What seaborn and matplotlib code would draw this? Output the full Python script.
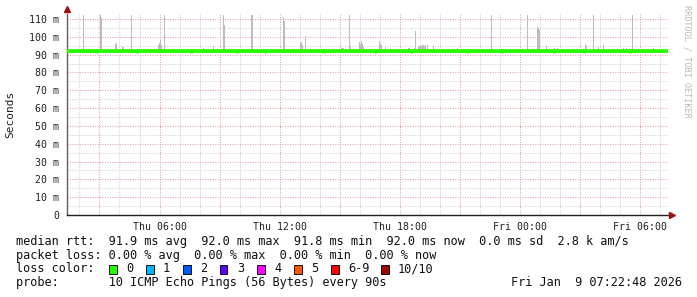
import numpy as np
import pandas as pd
import matplotlib
matplotlib.use("Agg")
import matplotlib.pyplot as plt
import seaborn as sns
from matplotlib.patches import Rectangle

# ---------------- data ----------------
# time axis in hours since Thu 00:00 (graph spans 30 h ending Fri 07:22:48)
t_start, t_end = 1.38, 31.38
step_h = 0.05  # one pixel column = 3 minutes

median_base = 92.0
median_dip_hours = [2.9, 4.9, 7.6, 9.9, 11.3, 14.2, 16.8, 18.6, 21.4, 23.1, 25.7, 27.2, 29.5]
median_dip_value = 91.7

# smoke (max ping per column) spikes above the median line
smoke_hours = [2.20, 3.05, 3.10, 3.80, 3.85, 4.15, 4.20, 4.55, 5.90, 5.95,
               6.00, 6.05, 6.20, 8.15, 8.65, 9.15, 9.20, 10.55, 10.60, 12.15,
               12.20, 13.00, 13.05, 13.10, 13.25, 15.05, 15.10, 15.15, 15.45, 15.50,
               15.95, 16.00, 16.05, 16.10, 16.15, 16.95, 17.00, 17.05, 17.25, 18.40,
               18.45, 18.70, 18.75, 18.90, 18.95, 19.00, 19.05, 19.10, 19.15, 19.20,
               19.25, 19.35, 19.65, 20.85, 22.55, 24.35, 24.85, 24.90, 24.95, 25.30,
               25.70, 25.85, 27.25, 27.30, 27.65, 27.90, 28.15, 29.15, 29.30, 29.60,
               30.65]
smoke_tops = [112.5, 112.5, 110.5, 96.0, 96.5, 94.4, 94.4, 112.5, 95.5, 96.5,
              98.0, 95.5, 112.5, 94.0, 95.0, 112.5, 106.6, 112.5, 112.5, 111.0,
              109.0, 96.5, 97.0, 95.5, 100.4, 94.0, 93.8, 94.0, 112.5, 95.0,
              97.0, 96.0, 97.5, 96.0, 94.5, 97.8, 96.0, 95.5, 94.6, 94.0,
              93.8, 94.0, 103.3, 94.5, 95.0, 95.5, 94.8, 95.2, 95.5, 94.8,
              95.5, 95.5, 94.6, 94.0, 112.5, 112.5, 105.5, 105.0, 104.0, 94.6,
              93.8, 94.0, 96.0, 95.0, 112.5, 94.5, 95.4, 94.0, 94.0, 112.5,
              94.0]

x_tick_pos = [6, 12, 18, 24, 30]
x_tick_labels = ["Thu 06:00", "Thu 12:00", "Thu 18:00", "Fri 00:00", "Fri 06:00"]
y_tick_pos = [0, 10, 20, 30, 40, 50, 60, 70, 80, 90, 100, 110]
y_tick_labels = ["0", "10 m", "20 m", "30 m", "40 m", "50 m", "60 m", "70 m",
                 "80 m", "90 m", "100 m", "110 m"]

loss_labels = ["0", "1", "2", "3", "4", "5", "6-9", "10/10"]
loss_colors = ["#26ff00", "#00b8ff", "#0059ff", "#5e00ff", "#ff00ff", "#ff5500", "#ff0000", "#a10000"]

line_rtt = "median rtt:  91.9 ms avg  92.0 ms max  91.8 ms min  92.0 ms now  0.0 ms sd  2.8 k am/s"
line_loss = "packet loss: 0.00 % avg  0.00 % max  0.00 % min  0.00 % now"
line_color = "loss color:"
line_probe = "probe:       10 ICMP Echo Pings (56 Bytes) every 90s"
line_date = "Fri Jan  9 07:22:48 2026"

# ---------------- figure ----------------
W, H = 697, 297
sns.set_style("white")
plt.rcParams['font.family'] = ['DejaVu Sans Mono']
fig = plt.figure(figsize=(W / 100, H / 100), dpi=100)
fig.patch.set_facecolor("white")

L, R, T, B = 67, 668, 14, 215
ax = fig.add_axes([L / W, 1 - B / H, (R - L) / W, (B - T) / H])
ax.set_facecolor("white")
ymax = 112.8
ax.set_xlim(t_start, t_end)
ax.set_ylim(0, ymax)

# grid
minor_col = "#d0d0d0"
major_col = "#eaa0a0"
dash = (0, (1, 1.4))
for yv in np.arange(5, ymax, 10):
    ax.axhline(yv, color=minor_col, lw=0.75, ls=dash, zorder=0)
for xv in np.arange(2, t_end, 1):
    if xv % 3 != 0:
        ax.axvline(xv, color=minor_col, lw=0.75, ls=dash, zorder=0)
for yv in np.arange(10, ymax, 10):
    ax.axhline(yv, color=major_col, lw=0.75, ls=dash, zorder=0.5)
for xv in np.arange(3, t_end, 3):
    ax.axvline(xv, color=major_col, lw=0.75, ls=dash, zorder=0.5)

# smoke
ax.bar(smoke_hours, np.array(smoke_tops) - 91.5, bottom=91.5, width=step_h,
       align="edge", color="#bcbcbc", edgecolor="none", zorder=2, antialiased=False)

# median line
times = np.arange(t_start, t_end, step_h)
median = np.full(times.shape, median_base)
for h in median_dip_hours:
    median[np.argmin(np.abs(times - h))] = median_dip_value
df = pd.DataFrame({"time": times, "median": median})
sns.lineplot(data=df, x="time", y="median", ax=ax, color="#26ff00", lw=2.7,
             drawstyle="steps-post", zorder=3, legend=False)

# axes
ax.set_xlabel("")
ax.set_ylabel("")
for s in ["top", "right"]:
    ax.spines[s].set_visible(False)
ax.spines["left"].set_color("#606060")
ax.spines["left"].set_linewidth(1.0)
ax.spines["bottom"].set_color("#202020")
ax.spines["bottom"].set_linewidth(1.0)
ax.set_xticks(x_tick_pos)
ax.set_xticklabels(x_tick_labels)
ax.set_yticks(y_tick_pos)
ax.set_yticklabels(y_tick_labels)
ax.tick_params(axis="x", length=2, width=0.8, color="#606060", pad=3.2, labelsize=7.1,
               labelcolor="#202020")
ax.tick_params(axis="y", length=3, width=0.8, color="#606060", pad=2.6, labelsize=7.1,
               labelcolor="#202020")

# arrows
ax.plot([t_start], [ymax + 3.0], marker="^", color="#a01010", ms=4.5, clip_on=False, zorder=5)
ax.plot([t_end + 0.2], [0], marker=">", color="#a01010", ms=4.5, clip_on=False, zorder=5)

# labels
fs = 8.52
def ftext(x, y, s, **kw):
    fig.text(x / W, 1 - y / H, s, **kw)

ftext(10.5, 114, "Seconds", rotation=90, ha="center", va="center", fontsize=8.0, color="#202020")
ftext(687, 61, "RRDTOOL / TOBI OETIKER", rotation=270, ha="center", va="center",
      fontsize=6.1, color="#b8b8b8")

ftext(16, 245, line_rtt, ha="left", va="baseline", fontsize=fs, color="#101010")
ftext(16, 258.7, line_loss, ha="left", va="baseline", fontsize=fs, color="#101010")
ftext(16, 272.5, line_color, ha="left", va="baseline", fontsize=fs, color="#101010")
ftext(16, 286.2, line_probe, ha="left", va="baseline", fontsize=fs, color="#101010")
ftext(682, 286.2, line_date, ha="right", va="baseline", fontsize=fs, color="#101010")

box_x = [109, 146, 183, 220, 257, 294, 331, 381]
for bx, lab, col in zip(box_x, loss_labels, loss_colors):
    fig.add_artist(Rectangle((bx / W, 1 - 273.5 / H), 7.5 / W, 9 / H,
                             transform=fig.transFigure, facecolor=col,
                             edgecolor="#101010", lw=0.7))
    ftext(bx + 17, 272.5, lab, ha="left", va="baseline", fontsize=fs, color="#101010")

fig.savefig("out.png", dpi=100, facecolor="white")
